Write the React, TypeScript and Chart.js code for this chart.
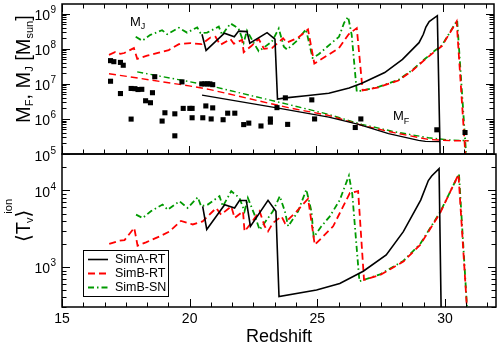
import React, { useEffect, useRef } from "react";
import { Chart, registerables } from "chart.js";
Chart.register(...registerables);

const FONT = '"Liberation Sans", "DejaVu Sans", Arial, sans-serif';

// ---------------- DATA ----------------
const seriesNames = ["SimA-RT", "SimB-RT", "SimB-SN"];
const xTickLabels = [15, 20, 25, 30];

// Top panel: Jeans mass M_J
const zA_MJ = [20.51, 20.67, 21.39, 21.78, 21.95, 22.28, 22.39, 23.07, 23.38, 23.48, 23.8, 24.6, 25.5, 26.3, 26.8, 27.7, 28.4, 29.05, 29.22, 29.32, 29.45, 29.77, 29.9];
const mA_MJ = [2.6e8, 9e7, 2.8e8, 2.2e8, 3.2e8, 3.1e8, 1.45e8, 2.9e8, 1.9e8, 3.7e6, 4.0e6, 4.6e6, 5.4e6, 7.6e6, 1.05e7, 2.1e7, 5.0e7, 1.5e8, 2.6e8, 4.2e8, 6.0e8, 8.8e8, 2e4];

const zB_MJ = [16.85, 17.1, 17.3, 17.45, 17.83, 17.96, 18.35, 18.81, 19.2, 19.6, 20.06, 20.5, 20.84, 21.04, 21.23, 21.63, 21.76, 22.09, 22.15, 22.45, 22.74, 22.95, 23.26, 23.7, 23.85, 24.3, 24.68, 24.93, 25.5, 25.9, 26.28, 26.6, 26.83, 27.46, 28.24, 28.76, 29.29, 29.68, 29.95, 30.53, 30.92];
const mB_MJ = [6.7e7, 8.1e7, 7.2e7, 7.6e7, 1.05e8, 5.2e7, 6.4e7, 7.8e7, 9.2e7, 1.36e8, 1.45e8, 1.36e8, 2.1e8, 2.2e8, 1.3e8, 1.9e8, 1.4e8, 1.8e8, 8e7, 1.2e8, 1.9e8, 1.0e8, 1.05e8, 2.0e8, 1.5e8, 2.1e8, 3.6e8, 3.8e7, 6.9e7, 1.05e8, 2.6e8, 3.9e8, 6.5e6, 8.0e6, 1.25e7, 2.3e7, 5.0e7, 8.5e7, 1.2e8, 6.0e8, 3e4];

const zS_MJ = [17.9, 18.16, 18.48, 18.94, 19.14, 19.6, 19.92, 20.32, 20.45, 20.71, 21.17, 21.3, 21.63, 21.95, 22.15, 22.28, 22.54, 22.74, 23.26, 23.53, 23.73, 23.86, 24.25, 24.6, 24.86, 25.1, 25.6, 25.9, 26.1, 26.26, 26.4, 26.6, 27.46, 28.24, 28.76, 29.29, 29.68, 29.95, 30.55, 30.95];
const mS_MJ = [2.2e8, 1.7e8, 2.5e8, 3.4e8, 2.6e8, 4.0e8, 2.9e8, 4.1e8, 2.8e8, 2.9e8, 4.3e8, 2.5e8, 5.3e8, 3.8e8, 1.5e8, 3.3e8, 1.5e8, 8.5e7, 1.6e8, 3.8e8, 1.15e8, 9.5e7, 1.7e8, 3.6e8, 5.5e7, 7.0e7, 1.45e8, 2.2e8, 5.5e8, 8.2e8, 2.5e8, 6.0e6, 8.2e6, 1.3e7, 2.4e7, 5.2e7, 9.0e7, 1.25e8, 6.5e8, 3e4];

// Top panel: filtering mass M_F
const zA_MF = [20.51, 23.4, 25.5, 26.67, 27.85, 29.03, 29.3, 29.88];
const mA_MF = [4.8e6, 2.1e6, 1.12e6, 7.0e5, 3.8e5, 2.45e5, 2.3e5, 2.24e5];
const zB_MF = [16.85, 20.0, 20.78, 23.9, 25.49, 26.79, 28.11, 29.42, 30.3, 31.0];
const mB_MF = [1.95e7, 8.8e6, 7.0e6, 2.1e6, 1.26e6, 6.6e5, 4.0e5, 2.6e5, 2.4e5, 2.37e5];
const zS_MF = [17.96, 20.0, 20.78, 23.9, 25.49, 26.8, 28.1, 29.42, 30.3, 31.0];
const mS_MF = [2.2e7, 1.16e7, 9.0e6, 2.6e6, 1.35e6, 7.0e5, 4.3e5, 2.9e5, 2.5e5, 2.4e5];

// Top panel: halo masses (squares)
const sqZ = [16.91, 17.04, 17.3, 17.41, 16.91, 17.3, 17.72, 17.87, 17.99, 18.14, 17.72, 18.29, 18.48, 18.56, 18.65, 18.94, 19.05, 19.44, 19.44, 19.72, 19.77, 20.03, 20.12, 20.12, 20.54, 20.66, 20.5, 20.62, 20.72, 20.82, 20.93, 20.93, 20.87, 21.34, 21.52, 21.8, 22.15, 22.35, 22.83, 23.2, 23.2, 23.46, 23.79, 23.88, 24.83, 24.94, 26.54, 26.76, 29.75, 30.86];
const sqM = [4.6e7, 4.3e7, 4.1e7, 3.4e7, 1.19e7, 5.3e6, 7.4e6, 7.3e6, 6.9e6, 7.0e6, 9.9e5, 3.3e6, 2.9e6, 5.6e6, 1.6e7, 8.7e5, 1.5e6, 1.4e6, 3.3e5, 1.14e7, 2.0e6, 2.0e6, 2.0e6, 1.08e6, 1.08e6, 2.35e6, 1.0e7, 1.0e7, 1.0e7, 1.0e7, 9.5e6, 2.07e6, 1.0e6, 9.5e5, 1.46e6, 1.46e6, 6.9e5, 7.6e5, 6.3e5, 1.0e6, 8.1e5, 2.1e6, 4.0e6, 7.0e5, 3.5e6, 1.0e6, 5.7e5, 1.0e6, 4.9e5, 4.1e5];

// Bottom panel: <T>_v^ion
const zA_T = [20.51, 20.67, 21.37, 21.76, 21.95, 22.22, 22.38, 23.07, 23.38, 23.5, 24.97, 25.88, 26.8, 27.7, 28.37, 29.05, 29.35, 29.48, 29.77, 29.87];
const tA_T = [6200, 3100, 6500, 5900, 7400, 7400, 3400, 7450, 5350, 410, 500, 610, 880, 1440, 2900, 7500, 13500, 15500, 19300, 100];

const zB_T = [16.85, 17.24, 17.45, 17.83, 17.96, 18.29, 18.81, 19.2, 19.66, 20.12, 20.51, 20.84, 21.04, 21.23, 21.63, 21.76, 22.09, 22.15, 22.41, 22.74, 22.94, 23.07, 23.26, 23.6, 23.73, 24.19, 24.64, 24.9, 25.62, 26.28, 26.6, 26.83, 27.46, 28.37, 29.03, 29.81, 30.53, 30.95];
const tB_T = [2000, 2200, 2250, 3250, 1900, 2100, 2500, 2900, 4000, 3600, 3950, 5080, 5900, 4830, 6200, 4370, 5350, 2920, 3760, 5350, 3400, 2920, 3760, 4590, 3760, 5350, 7800, 1950, 3400, 9300, 9800, 680, 785, 1175, 1950, 5080, 16200, 100];

const zS_T = [17.9, 18.16, 18.48, 18.94, 19.14, 19.6, 19.92, 20.32, 20.45, 20.71, 21.17, 21.3, 21.63, 21.95, 22.15, 22.28, 22.54, 22.74, 23.26, 23.53, 23.73, 23.86, 24.25, 24.57, 24.77, 24.86, 25.16, 25.49, 25.88, 26.24, 26.37, 26.65, 27.46, 28.37, 29.03, 29.81, 30.55, 30.95];
const tS_T = [4830, 4370, 5350, 6550, 5600, 7240, 5920, 8160, 6220, 6550, 8420, 6220, 9800, 8010, 5350, 8010, 4830, 3070, 5350, 8420, 5350, 3400, 5350, 10300, 5350, 2450, 3400, 4590, 7500, 15700, 9000, 650, 800, 1200, 2000, 5200, 16500, 100];

// ---------------- STYLE ----------------
const BLACK = "#000000";
const RED = "#ff0000";
const GREEN = "#009a00";
const DASH_RED = [7, 4];
const DASH_GREEN = [6, 3, 1.5, 3];

type Seg = { t: string; s: number; dx?: number; dy?: number };

function pts(z: number[], v: number[]) {
  return z.map((x, i) => ({ x, y: v[i] }));
}

function line(z: number[], v: number[], color: string, width: number, dash: number[], label: string) {
  return {
    label,
    data: pts(z, v),
    showLine: true,
    borderColor: color,
    backgroundColor: color,
    borderWidth: width,
    borderDash: dash,
    pointRadius: 0,
    pointHoverRadius: 0,
    fill: false,
    tension: 0,
  };
}

function drawRotated(ctx: CanvasRenderingContext2D, baseX: number, startY: number, segs: Seg[]) {
  ctx.save();
  ctx.translate(baseX, startY);
  ctx.rotate(-Math.PI / 2);
  ctx.textAlign = "left";
  ctx.textBaseline = "alphabetic";
  ctx.fillStyle = "#000";
  let u = 0;
  for (const g of segs) {
    ctx.font = `${g.s}px ${FONT}`;
    u += g.dx || 0;
    ctx.fillText(g.t, u, g.dy || 0);
    u += ctx.measureText(g.t).width;
  }
  ctx.restore();
}

function drawSegs(ctx: CanvasRenderingContext2D, x: number, y: number, segs: Seg[]) {
  ctx.textAlign = "left";
  ctx.textBaseline = "alphabetic";
  let u = x;
  for (const g of segs) {
    ctx.font = `${g.s}px ${FONT}`;
    u += g.dx || 0;
    ctx.fillText(g.t, u, y + (g.dy || 0));
    u += ctx.measureText(g.t).width;
  }
}

function drawFrame(chart: any, topTicks: boolean, bottomTicks: boolean) {
  const ctx: CanvasRenderingContext2D = chart.ctx;
  const a = chart.chartArea;
  const xs = chart.scales.x;
  const ys = chart.scales.y;
  ctx.save();
  ctx.strokeStyle = "#000";
  ctx.lineWidth = 1;
  ctx.setLineDash([]);
  ctx.beginPath();
  for (let k = 0; ; k++) {
    const v = 15 + (k * 5) / 6;
    if (v > 32.001) break;
    const px = Math.round(xs.getPixelForValue(v)) + 0.5;
    const len = k % 6 === 0 ? 8 : 4.5;
    if (bottomTicks) {
      ctx.moveTo(px, a.bottom);
      ctx.lineTo(px, a.bottom - len);
    }
    if (topTicks) {
      ctx.moveTo(px, a.top);
      ctx.lineTo(px, a.top + len);
    }
  }
  const lo = Math.floor(Math.log10(ys.min));
  const hi = Math.ceil(Math.log10(ys.max));
  for (let d = lo; d <= hi; d++) {
    for (let m = 1; m <= 9; m++) {
      const v = m * Math.pow(10, d);
      if (v < ys.min * 0.999 || v > ys.max * 1.001) continue;
      const py = Math.round(ys.getPixelForValue(v)) + 0.5;
      const len = m === 1 ? 8 : 4.5;
      ctx.moveTo(a.left, py);
      ctx.lineTo(a.left + len, py);
      ctx.moveTo(a.right, py);
      ctx.lineTo(a.right - len, py);
    }
  }
  ctx.stroke();
  ctx.lineWidth = 1.5;
  ctx.strokeRect(a.left, a.top, a.right - a.left, a.bottom - a.top);

  ctx.fillStyle = "#000";
  for (let d = lo; d <= hi; d++) {
    const v = Math.pow(10, d);
    if (v < ys.min * 0.999 || v > ys.max * 1.001) continue;
    const py = ys.getPixelForValue(v);
    ctx.textBaseline = "alphabetic";
    ctx.font = `14px ${FONT}`;
    ctx.textAlign = "right";
    ctx.fillText("10", a.left - 12, py + 6.5);
    ctx.font = `10px ${FONT}`;
    ctx.textAlign = "left";
    ctx.fillText(String(d), a.left - 11.5, py - 0.5);
  }
  ctx.restore();
}

const topDecor = {
  id: "topDecor",
  afterDraw(chart: any) {
    const ctx: CanvasRenderingContext2D = chart.ctx;
    drawFrame(chart, true, true);
    ctx.save();
    ctx.fillStyle = "#000";
    drawRotated(ctx, 30, 123, [
      { t: "M", s: 20 },
      { t: "F", s: 11, dy: 3 },
      { t: ", ", s: 20 },
      { t: "M", s: 20 },
      { t: "J", s: 11, dy: 3 },
      { t: " [", s: 20 },
      { t: "M", s: 20 },
      { t: "sun", s: 11, dy: 3 },
      { t: "]", s: 20 },
    ]);
    drawSegs(ctx, 130, 25.5, [
      { t: "M", s: 13 },
      { t: "J", s: 9, dy: 3 },
    ]);
    drawSegs(ctx, 393, 119.5, [
      { t: "M", s: 13 },
      { t: "F", s: 9, dy: 4 },
    ]);
    ctx.restore();
  },
};

const bottomDecor = {
  id: "bottomDecor",
  afterDraw(chart: any) {
    const ctx: CanvasRenderingContext2D = chart.ctx;
    const xs = chart.scales.x;
    drawFrame(chart, false, true);
    ctx.save();
    ctx.fillStyle = "#000";
    ctx.font = `14px ${FONT}`;
    ctx.textAlign = "center";
    ctx.textBaseline = "alphabetic";
    for (const v of xTickLabels) {
      ctx.fillText(String(v), xs.getPixelForValue(v), 323);
    }
    ctx.font = `18px ${FONT}`;
    ctx.fillText("Redshift", (chart.chartArea.left + chart.chartArea.right) / 2, 341.5);

    drawRotated(ctx, 29.5, 242, [
      { t: "\u27E8", s: 20 },
      { t: "T", s: 20 },
      { t: "v", s: 11, dy: 3, dx: -1 },
      { t: "\u27E9", s: 20 },
      { t: "ion", s: 11, dy: -17.5, dx: -4 },
    ]);

    // legend
    ctx.fillStyle = "#fff";
    ctx.fillRect(83.5, 250.5, 85, 46);
    ctx.strokeStyle = "#000";
    ctx.lineWidth = 1;
    ctx.strokeRect(83.5, 250.5, 85, 46);
    const styles = [
      { c: BLACK, d: [] as number[], w: 1.6 },
      { c: RED, d: DASH_RED, w: 1.8 },
      { c: GREEN, d: DASH_GREEN, w: 1.8 },
    ];
    seriesNames.forEach((name, i) => {
      const y = 259.5 + i * 14;
      const st = styles[i];
      ctx.setLineDash(st.d);
      ctx.strokeStyle = st.c;
      ctx.lineWidth = st.w;
      ctx.beginPath();
      ctx.moveTo(88, y);
      ctx.lineTo(108, y);
      ctx.stroke();
      ctx.setLineDash([]);
      ctx.fillStyle = "#000";
      ctx.font = `12.5px ${FONT}`;
      ctx.textAlign = "left";
      ctx.textBaseline = "middle";
      ctx.fillText(name, 115, y + 0.5);
    });
    ctx.restore();
  },
};

function baseOptions(padding: any, yMin: number, yMax: number) {
  return {
    animation: false,
    responsive: false,
    maintainAspectRatio: false,
    events: [],
    layout: { padding },
    plugins: { legend: { display: false }, tooltip: { enabled: false }, title: { display: false } },
    scales: {
      x: { type: "linear", min: 15, max: 32, display: false },
      y: { type: "logarithmic", min: yMin, max: yMax, display: false },
    },
  };
}

export default function App() {
  const topRef = useRef<HTMLCanvasElement>(null);
  const botRef = useRef<HTMLCanvasElement>(null);

  useEffect(() => {
    const top = new Chart(topRef.current as HTMLCanvasElement, {
      type: "scatter",
      data: {
        datasets: [
          {
            label: "halos",
            data: pts(sqZ, sqM),
            showLine: false,
            pointStyle: "rect",
            pointRadius: 3.6,
            pointBorderWidth: 0,
            borderWidth: 0,
            backgroundColor: "#000",
            borderColor: "#000",
          },
          line(zA_MJ, mA_MJ, BLACK, 1.6, [], seriesNames[0]),
          line(zA_MF, mA_MF, BLACK, 1.3, [], seriesNames[0] + " MF"),
          line(zB_MJ, mB_MJ, RED, 1.8, DASH_RED, seriesNames[1]),
          line(zB_MF, mB_MF, RED, 1.4, DASH_RED, seriesNames[1] + " MF"),
          line(zS_MJ, mS_MJ, GREEN, 1.8, DASH_GREEN, seriesNames[2]),
          line(zS_MF, mS_MF, GREEN, 1.4, DASH_GREEN, seriesNames[2] + " MF"),
        ] as any,
      },
      options: baseOptions({ left: 62, right: 2, top: 2, bottom: 190 }, 1e5, 1.9e9) as any,
      plugins: [topDecor],
    });
    const bot = new Chart(botRef.current as HTMLCanvasElement, {
      type: "scatter",
      data: {
        datasets: [
          line(zA_T, tA_T, BLACK, 1.6, [], seriesNames[0]),
          line(zB_T, tB_T, RED, 1.8, DASH_RED, seriesNames[1]),
          line(zS_T, tS_T, GREEN, 1.8, DASH_GREEN, seriesNames[2]),
        ] as any,
      },
      options: baseOptions({ left: 62, right: 2, top: 154, bottom: 37 }, 300, 30000) as any,
      plugins: [bottomDecor],
    });
    return () => {
      top.destroy();
      bot.destroy();
    };
  }, []);

  const cs: React.CSSProperties = { position: "absolute", left: 0, top: 0, width: 498, height: 344 };
  return (
    <div style={{ position: "absolute", left: 0, top: 0, width: 498, height: 344, background: "#fff" }}>
      <canvas ref={topRef} width={498} height={344} style={cs} />
      <canvas ref={botRef} width={498} height={344} style={cs} />
    </div>
  );
}
